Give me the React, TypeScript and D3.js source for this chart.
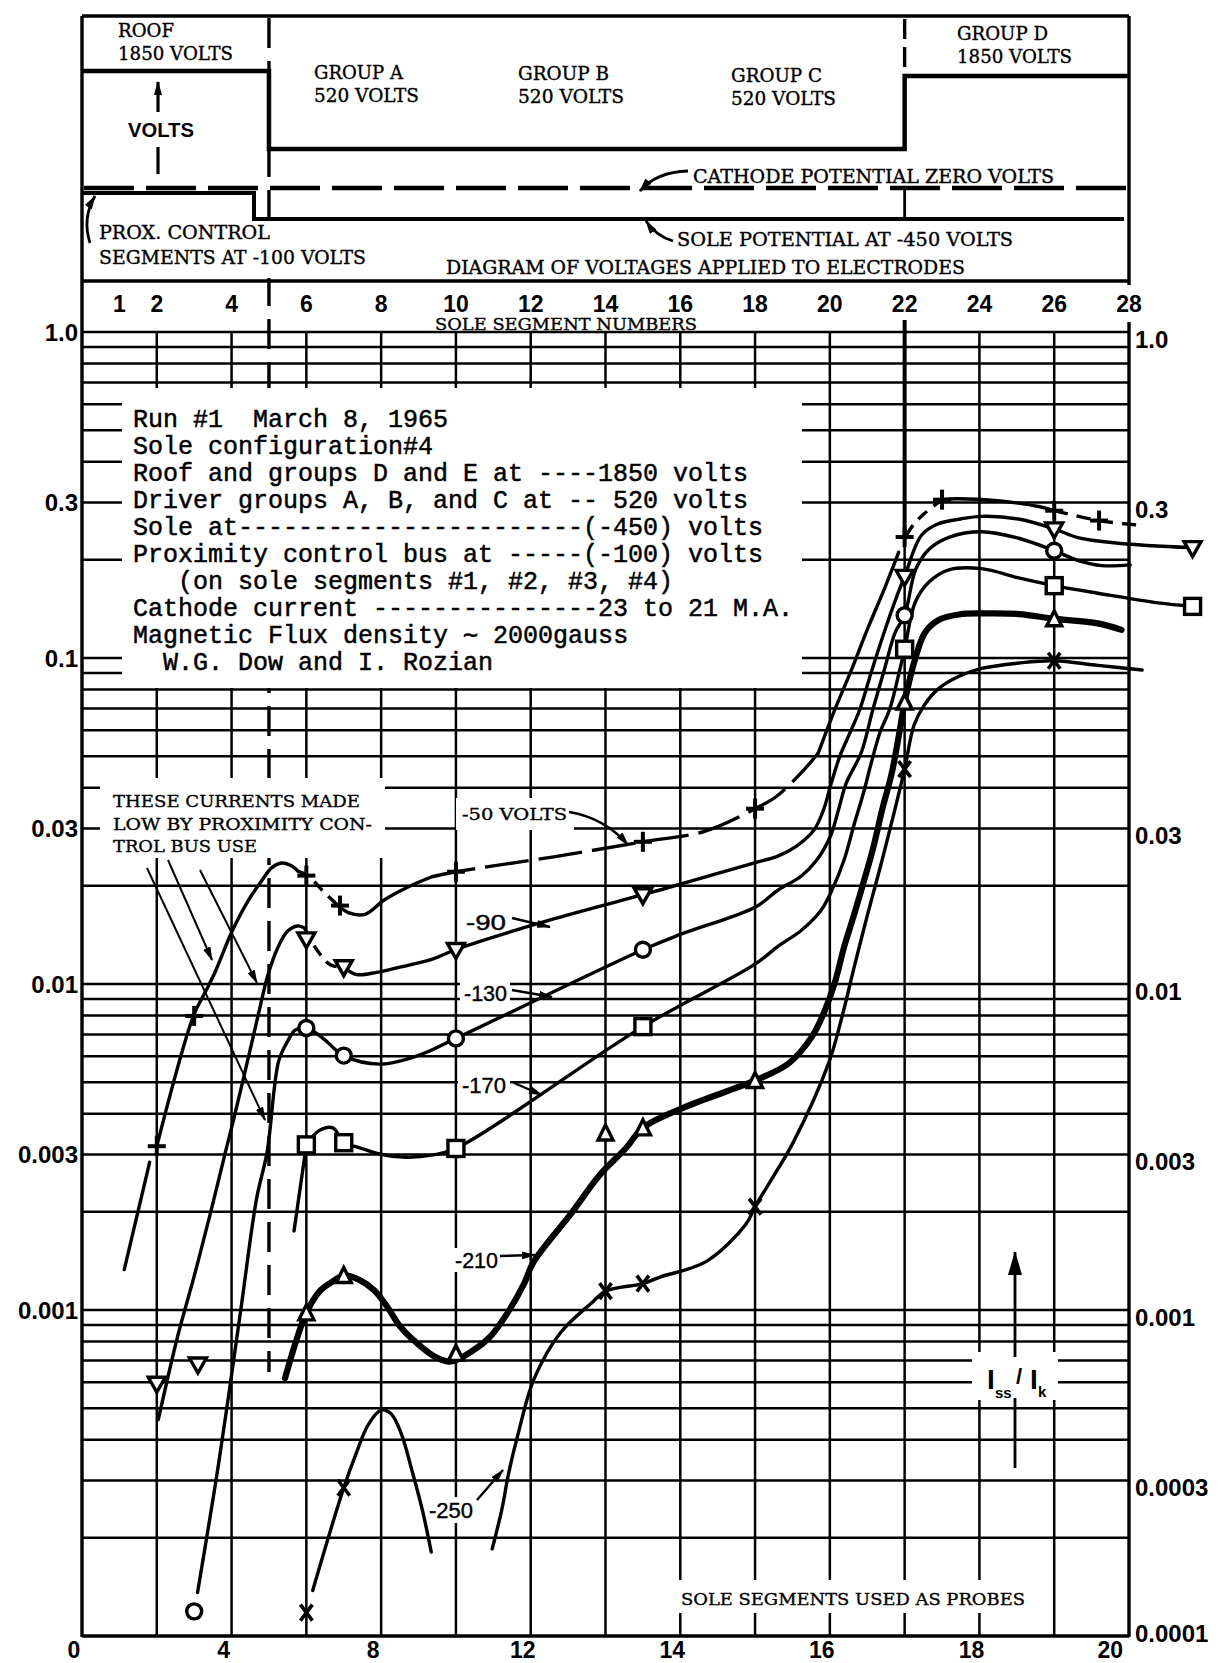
import React from "react";
import * as d3 from "d3";

type P = [number, number];
type Piece = { pts: P[]; dash?: string };

// ---------- axis / tick data ----------
const topSegLabels = [1, 2, 4, 6, 8, 10, 12, 14, 16, 18, 20, 22, 24, 26, 28];
const bottomTickSegs = [0, 4, 8, 12, 16, 20, 24, 28];
const bottomTickLabels = ["0", "4", "8", "12", "14", "16", "18", "20"];
const leftTickValues = [1, 0.3, 0.1, 0.03, 0.01, 0.003, 0.001];
const leftTickLabels = ["1.0", "0.3", "0.1", "0.03", "0.01", "0.003", "0.001"];
const rightTickValues = [1, 0.3, 0.03, 0.01, 0.003, 0.001, 0.0003, 0.0001];
const rightTickLabels = ["1.0", "0.3", "0.03", "0.01", "0.003", "0.001", "0.0003", "0.0001"];
const gridDecades = [1e-4, 1e-3, 1e-2, 1e-1];
const gridMultipliers = [1, 2, 3, 4, 5, 6, 7, 8, 9];
const verticalGridSegs = [2, 4, 6, 8, 10, 12, 14, 16, 18, 20, 22, 24, 26];

// ---------- series: -50 volts (+) ----------
const m50Markers: P[] = [[2, 0.00318], [3, 0.00798], [6, 0.0215], [6.9, 0.0174], [10, 0.0221], [15, 0.0273], [18, 0.0345], [22, 0.235], [23, 0.306], [26, 0.283], [27.2, 0.264]];
const m50Pieces: Piece[] = [
  { pts: [[1.13, 0.00133], [1.81, 0.00284]] },
  { pts: [[2, 0.00318], [2.98, 0.00798], [3.3, 0.00946], [3.56, 0.01089], [4.01, 0.01449], [4.43, 0.0179], [4.8, 0.0207], [5.07, 0.0227], [5.34, 0.0235], [5.61, 0.023], [5.77, 0.0222]] },
  { pts: [[5.77, 0.0222], [6.04, 0.0215], [6.44, 0.0193], [6.85, 0.0174]], dash: "12 8" },
  { pts: [[6.85, 0.0174], [7.12, 0.01656], [7.57, 0.01636], [8.08, 0.0181], [8.72, 0.01985], [9.36, 0.02133]] },
  { pts: [[9.36, 0.02133], [10, 0.0221], [12.66, 0.0246], [15, 0.0273], [16.65, 0.0294], [18, 0.0345], [18.57, 0.0376], [19.3, 0.0453], [19.69, 0.0511]], dash: "44 10" },
  { pts: [[19.69, 0.0511], [20.13, 0.0693], [20.58, 0.0921], [21.0, 0.1222], [21.45, 0.1622], [21.84, 0.211]] },
  { pts: [[22.05, 0.238], [22.23, 0.256], [22.52, 0.277], [23, 0.306]], dash: "12 8" },
  { pts: [[23, 0.306], [23.4, 0.308], [24.55, 0.303], [25.62, 0.291], [26, 0.283]] },
  { pts: [[26, 0.283], [27.2, 0.264], [28.2, 0.256]], dash: "14 9" },
];

// ---------- series: -90 volts (inverted triangle) ----------
const m90Markers: P[] = [[2, 0.000596], [3.1, 0.000683], [6, 0.01375], [7, 0.0113], [10, 0.01276], [15, 0.01879], [22, 0.178], [26, 0.249], [29.7, 0.218]];
const m90Pieces: Piece[] = [
  { pts: [[2.04, 0.000461], [2.56, 0.000832], [3.0, 0.00127], [3.42, 0.00195], [3.86, 0.00313], [4.04, 0.00378], [4.38, 0.00551], [4.71, 0.00801], [4.97, 0.01064], [5.23, 0.01288], [5.5, 0.01453], [5.76, 0.01507], [5.95, 0.01486]] },
  { pts: [[5.95, 0.01486], [6.3, 0.01264], [6.64, 0.01146], [7, 0.01125]], dash: "12 8" },
  { pts: [[7, 0.01125], [7.35, 0.01069], [7.88, 0.01086], [8.5, 0.01127], [9.35, 0.01189], [10, 0.01276], [12.66, 0.01589], [15, 0.01879], [15.98, 0.0202], [18.08, 0.0237], [18.58, 0.0246], [19.11, 0.0265], [19.57, 0.0296], [19.83, 0.0342], [20.04, 0.0414], [20.27, 0.0501], [20.54, 0.059], [20.8, 0.0695], [21.13, 0.0922], [21.48, 0.1225], [21.8, 0.1556], [22, 0.178], [22.45, 0.238], [22.9, 0.258], [23.5, 0.267], [24.05, 0.272], [25.04, 0.267], [26, 0.249], [26.63, 0.234], [27.7, 0.225], [29.7, 0.218]] },
];

// ---------- series: -130 volts (circle) ----------
const m130Markers: P[] = [[3, 0.000119], [6, 0.00733], [7, 0.00603], [10, 0.00681], [15, 0.01274], [22, 0.1352], [26, 0.2134]];
const m130Pieces: Piece[] = [
  { pts: [[3.09, 0.000136], [3.66, 0.000342], [4.24, 0.000989], [4.67, 0.0022], [4.95, 0.00305], [5.26, 0.0058], [5.5, 0.00668], [5.7, 0.00722], [6, 0.00733], [6.43, 0.00684], [7, 0.00603], [7.98, 0.00568], [9.05, 0.00607], [10, 0.00681], [15, 0.01274], [16, 0.01419], [18.03, 0.01727], [18.6, 0.01936], [19.23, 0.0214], [19.65, 0.024], [20.02, 0.0285], [20.23, 0.0342], [20.44, 0.0414], [20.84, 0.0513], [21.15, 0.0695], [21.46, 0.0923], [21.75, 0.12], [22, 0.1352], [22.3, 0.1875], [22.66, 0.216], [23.2, 0.235], [24.06, 0.244], [25.05, 0.233], [26, 0.2134], [26.64, 0.199], [27.28, 0.192], [28.03, 0.193]] },
];

// ---------- series: -170 volts (square) ----------
const m170Markers: P[] = [[6, 0.00321], [7, 0.00326], [10, 0.00313], [15, 0.0074], [22, 0.1064], [26, 0.1667], [29.7, 0.144]];
const m170Pieces: Piece[] = [
  { pts: [[5.67, 0.001746], [6, 0.00321]] },
  { pts: [[6, 0.00321], [6.34, 0.00355], [6.71, 0.00362], [7, 0.00326], [7.41, 0.00315], [7.95, 0.00301], [8.67, 0.00294], [9.39, 0.00299], [10, 0.00313], [15, 0.0074], [18.02, 0.01155], [18.61, 0.01304], [19.24, 0.01462], [19.77, 0.01687], [20.06, 0.01945], [20.38, 0.024], [20.64, 0.0306], [20.9, 0.0386], [21.11, 0.0478], [21.34, 0.0591], [21.6, 0.0696], [21.81, 0.0861], [22, 0.1064], [22.28, 0.148], [22.65, 0.171], [23.18, 0.1865], [24.06, 0.188], [25.05, 0.176], [26, 0.1667], [27.17, 0.158], [28.77, 0.1476], [29.7, 0.144]] },
];

// ---------- series: -210 volts (triangle, heavy) ----------
const m210Markers: P[] = [[6, 0.00098], [7, 0.001276], [10, 0.000736], [14, 0.00349], [15, 0.00362], [18, 0.00506], [22, 0.0732], [26, 0.132]];
const m210Pieces: Piece[] = [
  { pts: [[5.43, 0.000618], [5.69, 0.00078], [6, 0.00098], [6.37, 0.001146], [6.74, 0.00123], [7, 0.001276], [7.44, 0.001233], [7.82, 0.001148], [8.17, 0.00102], [8.52, 0.000887], [8.98, 0.000787], [9.44, 0.000719], [9.86, 0.000695], [10.5, 0.000757], [10.93, 0.000832], [11.38, 0.00098], [11.83, 0.00121], [12.07, 0.0014], [13.1, 0.00199], [13.84, 0.00259], [14.55, 0.00314], [15, 0.00362], [16.12, 0.00419], [18, 0.00506], [18.9, 0.00571], [19.53, 0.00692], [19.87, 0.00832], [20.13, 0.01008], [20.39, 0.0131], [20.64, 0.0162], [20.9, 0.0205], [21.15, 0.0259], [21.4, 0.0343], [21.66, 0.0446], [21.86, 0.0592], [22, 0.0732], [22.28, 0.0993], [22.55, 0.12], [22.92, 0.131], [23.45, 0.136], [24.07, 0.137], [25.06, 0.1364], [26, 0.132], [27.16, 0.1277], [27.8, 0.122]] },
];

// ---------- series: -250 volts (X) ----------
const m250Markers: P[] = [[6, 0.000118], [7, 0.000285], [14, 0.001143], [15, 0.001205], [18, 0.002075], [22, 0.0456], [26, 0.0981]];
const m250Pieces: Piece[] = [
  { pts: [[6.17, 0.000138], [7, 0.000285], [7.32, 0.00036], [7.66, 0.000446], [8.0, 0.000493], [8.27, 0.00048], [8.54, 0.000417], [8.82, 0.000323], [9.1, 0.000244], [9.34, 0.000181]] },
  { pts: [[10.97, 0.000185], [11.23, 0.000245], [11.41, 0.000316], [11.67, 0.00042], [12.09, 0.000615], [12.8, 0.000853], [13.65, 0.001057], [14, 0.001143], [15, 0.001205], [15.44, 0.00126], [16.7, 0.00141], [17.76, 0.001837], [18, 0.002075], [18.49, 0.00257], [19.01, 0.00325], [19.97, 0.00573], [20.33, 0.00798], [20.66, 0.01138], [21.0, 0.0162], [21.36, 0.0231], [21.7, 0.0329], [22, 0.0456], [22.25, 0.0622], [22.53, 0.0718], [22.9, 0.0804], [23.44, 0.0877], [24.06, 0.0929], [25.06, 0.0965], [26, 0.0981], [27.17, 0.0949], [28.35, 0.0919]] },
];

// ---------- text ----------
const runNotes = [
  "Run #1  March 8, 1965",
  "Sole configuration#4",
  "Roof and groups D and E at ----1850 volts",
  "Driver groups A, B, and C at -- 520 volts",
  "Sole at" + "-".repeat(23) + "(-450) volts",
  "Proximity control bus at " + "-".repeat(5) + "(-100) volts",
  "   (on sole segments #1, #2, #3, #4)",
  "Cathode current " + "-".repeat(15) + "23 to 21 M.A.",
  "Magnetic Flux density \u223C 2000gauss",
  "  W.G. Dow and I. Rozian",
];
const currentsNote = ["THESE CURRENTS MADE", "LOW BY PROXIMITY CON-", "TROL BUS USE"];

// ---------- layout ----------
const W = 1222, H = 1663;
const X0 = 82, X1 = 1129, YT = 332, YB = 1636, PT = 16, PB = 281;
const xS = d3.scaleLinear().domain([0, 28]).range([X0, X1]);
const yS = d3.scaleLog().domain([1e-4, 1]).range([YB, YT]);
const lineGen = d3.line<P>().x((d) => xS(d[0])).y((d) => yS(d[1])).curve(d3.curveCatmullRom.alpha(0.5));

const SERIF = "'DejaVu Serif', 'Liberation Serif', serif";
const SANS = "'Liberation Sans', Arial, sans-serif";
const MONO = "'Liberation Mono', 'DejaVu Sans Mono', monospace";

const masks = [
  [122, 388, 680, 300],
  [100, 778, 285, 80],
  [456, 798, 118, 32],
  [462, 912, 48, 22],
  [460, 982, 50, 24],
  [458, 1075, 52, 23],
  [450, 1248, 50, 24],
  [425, 1497, 52, 26],
  [676, 1580, 359, 33],
  [972, 1352, 86, 48],
  [262, 232, 16, 46],
];

function Mark({ kind, p }: { kind: string; p: P }) {
  const cx = xS(p[0]);
  const cy = yS(p[1]);
  const st = { stroke: "#000", strokeWidth: 3.4, fill: "#fff" } as const;
  if (kind === "plus")
    return (
      <g stroke="#000" strokeWidth={4}>
        <line x1={cx - 9} y1={cy} x2={cx + 9} y2={cy} />
        <line x1={cx} y1={cy - 10} x2={cx} y2={cy + 10} />
      </g>
    );
  if (kind === "tdown")
    return <polygon points={`${cx - 8.5},${cy - 6} ${cx + 8.5},${cy - 6} ${cx},${cy + 9}`} {...st} />;
  if (kind === "circle") return <circle cx={cx} cy={cy} r={7.5} {...st} />;
  if (kind === "square") return <rect x={cx - 8} y={cy - 8} width={16} height={16} {...st} />;
  if (kind === "tup")
    return <polygon points={`${cx - 7.5},${cy + 7} ${cx + 7.5},${cy + 7} ${cx},${cy - 8}`} {...st} />;
  return (
    <g stroke="#000" strokeWidth={3.6}>
      <line x1={cx - 6} y1={cy - 8} x2={cx + 6} y2={cy + 8} />
      <line x1={cx + 6} y1={cy - 8} x2={cx - 6} y2={cy + 8} />
    </g>
  );
}

const series = [
  { kind: "plus", pieces: m50Pieces, markers: m50Markers, w: 3.4 },
  { kind: "tdown", pieces: m90Pieces, markers: m90Markers, w: 3.4 },
  { kind: "circle", pieces: m130Pieces, markers: m130Markers, w: 3.4 },
  { kind: "square", pieces: m170Pieces, markers: m170Markers, w: 3.4 },
  { kind: "tup", pieces: m210Pieces, markers: m210Markers, w: 6.2 },
  { kind: "x", pieces: m250Pieces, markers: m250Markers, w: 3.4 },
];

function SerifText({ x, y, t, len, size = 18 }: { x: number; y: number; t: string; len: number; size?: number }) {
  return (
    <text x={x} y={y} fontFamily={SERIF} fontSize={size} textLength={len} lengthAdjust="spacingAndGlyphs" fill="#000" stroke="#000" strokeWidth={0.35}>
      {t}
    </text>
  );
}

export default function App() {
  const hValues = [1, ...gridDecades.flatMap((d) => gridMultipliers.slice(d === 1e-4 ? 1 : 0).map((m) => m * d))];
  const lastBottom = bottomTickSegs.length - 1;
  return (
    <div style={{ position: "absolute", left: 0, top: 0, width: W, height: H, overflow: "hidden", background: "#fff" }}>
      <svg width={W} height={H} viewBox={`0 0 ${W} ${H}`} style={{ display: "block" }}>
        <defs>
          <marker id="ah" viewBox="0 0 14 8" refX="13" refY="4" markerWidth="14" markerHeight="8" markerUnits="userSpaceOnUse" orient="auto">
            <path d="M0,0 L14,4 L0,8 Z" fill="#000" />
          </marker>
          <marker id="ahBig" viewBox="0 0 24 14" refX="23" refY="7" markerWidth="24" markerHeight="14" markerUnits="userSpaceOnUse" orient="auto">
            <path d="M0,0 L24,7 L0,14 Z" fill="#000" />
          </marker>
        </defs>
        <rect x={0} y={0} width={W} height={H} fill="#fff" />

        {/* grid */}
        <g stroke="#000" strokeWidth={2.5}>
          {hValues.map((v, i) => (
            <line key={"h" + i} x1={X0} x2={X1} y1={yS(v)} y2={yS(v)} />
          ))}
          {verticalGridSegs.map((s) => (
            <line key={"v" + s} x1={xS(s)} x2={xS(s)} y1={YT} y2={YB} />
          ))}
        </g>
        {/* dashed divider at segment 5 */}
        <line x1={xS(5)} x2={xS(5)} y1={PT + 2} y2={1372} stroke="#000" strokeWidth={3.4} strokeDasharray="30 13" />

        {/* white masks behind notes */}
        {masks.map((m, i) => (
          <rect key={"m" + i} x={m[0]} y={m[1]} width={m[2]} height={m[3]} fill="#fff" />
        ))}

        {/* frame */}
        <g stroke="#000" strokeWidth={3.4} fill="none">
          <line x1={X0} x2={X0} y1={PT} y2={YB + 1} />
          <line x1={X0} x2={X1} y1={YB} y2={YB} />
          <line x1={X0} x2={X1} y1={PT} y2={PT} />
          <line x1={X0} x2={X1} y1={PB} y2={PB} />
          <line x1={X1} x2={X1} y1={PT} y2={PB + 4} />
          <line x1={X1} x2={X1} y1={YT - 10} y2={YB + 1} />
        </g>
        {/* heavy line at segment 22 */}
        <line x1={xS(22)} x2={xS(22)} y1={YT - 12} y2={535} stroke="#000" strokeWidth={4} />

        {/* ----- voltage diagram ----- */}
        <path d={`M${X0 + 1},71 H${xS(5)} V149 H${xS(22)} V76 H${X1}`} fill="none" stroke="#000" strokeWidth={4.5} />
        <line x1={xS(22)} x2={xS(22)} y1={PT + 3} y2={76} stroke="#000" strokeWidth={3.4} strokeDasharray="20 8" />
        <line x1={X0 + 2} x2={X1} y1={188} y2={188} stroke="#000" strokeWidth={4.5} strokeDasharray="50 12" />
        <path d={`M${X0 + 1},193 H${xS(4.6)} V219 H${X1 - 5}`} fill="none" stroke="#000" strokeWidth={4} />
        <line x1={xS(22)} x2={xS(22)} y1={189} y2={219} stroke="#000" strokeWidth={2.8} />
        <line x1={158} x2={158} y1={112} y2={82} stroke="#000" strokeWidth={3.2} markerEnd="url(#ah)" />
        <line x1={158} x2={158} y1={147} y2={174} stroke="#000" strokeWidth={3.2} />
        <path d="M90,243 Q82,218 95,196" fill="none" stroke="#000" strokeWidth={2.8} markerEnd="url(#ah)" />
        <path d="M688,171 Q656,172 640,191" fill="none" stroke="#000" strokeWidth={2.8} markerEnd="url(#ah)" />
        <path d="M673,241 Q656,236 646,221" fill="none" stroke="#000" strokeWidth={2.8} markerEnd="url(#ah)" />

        <SerifText x={118} y={37} t="ROOF" len={56} />
        <SerifText x={118} y={60} t="1850 VOLTS" len={115} />
        <SerifText x={314} y={79} t="GROUP A" len={89} />
        <SerifText x={314} y={102} t="520 VOLTS" len={105} />
        <SerifText x={518} y={80} t="GROUP B" len={91} />
        <SerifText x={518} y={103} t="520 VOLTS" len={106} />
        <SerifText x={731} y={82} t="GROUP C" len={91} />
        <SerifText x={731} y={105} t="520 VOLTS" len={105} />
        <SerifText x={957} y={40} t="GROUP D" len={91} />
        <SerifText x={957} y={63} t="1850 VOLTS" len={115} />
        <text x={128} y={137} fontFamily={SANS} fontWeight="bold" fontSize={21} textLength={66} lengthAdjust="spacingAndGlyphs">
          VOLTS
        </text>
        <SerifText x={693} y={183} t="CATHODE POTENTIAL ZERO VOLTS" len={361} />
        <SerifText x={677} y={246} t="SOLE POTENTIAL AT -450 VOLTS" len={336} />
        <SerifText x={99} y={239} t="PROX. CONTROL" len={171} />
        <SerifText x={99} y={264} t="SEGMENTS AT -100 VOLTS" len={267} />
        <SerifText x={446} y={274} t="DIAGRAM OF VOLTAGES APPLIED TO ELECTRODES" len={519} />
        <SerifText x={435} y={330} t="SOLE SEGMENT NUMBERS" len={262} size={17} />

        {/* segment numbers */}
        {topSegLabels.map((s) => (
          <text key={"t" + s} x={xS(s)} y={312} textAnchor="middle" fontFamily={SANS} fontWeight="bold" fontSize={23}>
            {s}
          </text>
        ))}
        {bottomTickSegs.map((s, i) => (
          <text
            key={"b" + s}
            x={i === lastBottom ? X1 - 6 : xS(s) - 8}
            y={1658}
            textAnchor={i === lastBottom ? "end" : "middle"}
            fontFamily={SANS}
            fontWeight="bold"
            fontSize={23}
          >
            {bottomTickLabels[i]}
          </text>
        ))}
        {leftTickValues.map((v, i) => (
          <text key={"l" + i} x={X0 - 4} y={yS(v) + 9} textAnchor="end" fontFamily={SANS} fontWeight="bold" fontSize={24}>
            {leftTickLabels[i]}
          </text>
        ))}
        {rightTickValues.map((v, i) => (
          <text key={"r" + i} x={X1 + 6} y={yS(v) + (i === rightTickValues.length - 1 ? 6 : 16)} fontFamily={SANS} fontWeight="bold" fontSize={24}>
            {rightTickLabels[i]}
          </text>
        ))}

        {/* curves */}
        {series.map((s, si) => (
          <g key={"s" + si}>
            {s.pieces.map((pc, pi) => (
              <path
                key={pi}
                d={lineGen(pc.pts) || ""}
                fill="none"
                stroke="#000"
                strokeWidth={s.w}
                strokeDasharray={pc.dash}
                strokeLinecap={pc.dash ? "butt" : "round"}
                strokeLinejoin="round"
              />
            ))}
          </g>
        ))}
        {series.map((s, si) => (
          <g key={"mk" + si}>
            {s.markers.map((p, i) => (
              <Mark key={i} kind={s.kind} p={p} />
            ))}
          </g>
        ))}

        {/* notes */}
        {runNotes.map((t, i) => (
          <text key={"n" + i} x={133} y={427 + i * 27} fontFamily={MONO} fontSize={25} style={{ whiteSpace: "pre" }} stroke="#000" strokeWidth={0.5}>
            {t}
          </text>
        ))}
        {currentsNote.map((t, i) => (
          <SerifText key={"c" + i} x={113} y={807 + i * 22.5} t={t} len={[247, 259, 144][i]} size={17} />
        ))}
        <g stroke="#000" strokeWidth={2} fill="none">
          <line x1={147} y1={868} x2={265} y2={1120} markerEnd="url(#ah)" />
          <line x1={168} y1={860} x2={212} y2={960} markerEnd="url(#ah)" />
          <line x1={200} y1={870} x2={257} y2={983} markerEnd="url(#ah)" />
          <path d="M569,812 Q605,818 628,845" markerEnd="url(#ah)" strokeWidth={2.4} />
          <line x1={512} y1={918} x2={550} y2={927} markerEnd="url(#ah)" strokeWidth={2.4} />
          <line x1={512} y1={990} x2={552} y2={997} markerEnd="url(#ah)" strokeWidth={2.4} />
          <line x1={514} y1={1083} x2={542} y2={1095} markerEnd="url(#ah)" strokeWidth={2.4} />
          <line x1={500} y1={1256} x2={535} y2={1255} markerEnd="url(#ah)" strokeWidth={2.4} />
          <line x1={477} y1={1500} x2={503} y2={1470} markerEnd="url(#ah)" strokeWidth={2.4} />
          <line x1={1015} y1={1357} x2={1015} y2={1252} markerEnd="url(#ahBig)" strokeWidth={2.8} />
          <line x1={1015} y1={1398} x2={1015} y2={1468} strokeWidth={2.8} />
        </g>
        <SerifText x={462} y={820} t="-50 VOLTS" len={105} size={17} />
        <g fontFamily={SANS} fontSize={22} stroke="#000" strokeWidth={0.4}>
          <text x={466} y={930} textLength={40} lengthAdjust="spacingAndGlyphs">-90</text>
          <text x={464} y={1001} textLength={43} lengthAdjust="spacingAndGlyphs">-130</text>
          <text x={462} y={1093} textLength={44} lengthAdjust="spacingAndGlyphs">-170</text>
          <text x={455} y={1268} textLength={43} lengthAdjust="spacingAndGlyphs">-210</text>
          <text x={429} y={1518} textLength={44} lengthAdjust="spacingAndGlyphs">-250</text>
        </g>
        <SerifText x={681} y={1605} t="SOLE SEGMENTS USED AS PROBES" len={344} size={17} />
        <g fontFamily={SANS} fontWeight="bold" fill="#000">
          <text x={987} y={1389} fontSize={28}>I</text>
          <text x={995} y={1398} fontSize={15}>ss</text>
          <text x={1016} y={1384} fontSize={22}>/</text>
          <text x={1030} y={1389} fontSize={28}>I</text>
          <text x={1038} y={1397} fontSize={15}>k</text>
        </g>
      </svg>
    </div>
  );
}
